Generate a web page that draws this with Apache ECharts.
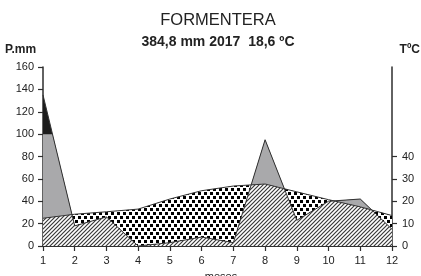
<!DOCTYPE html>
<html><head><meta charset="utf-8">
<script src="https://cdn.jsdelivr.net/npm/echarts@6/dist/echarts.min.js"></script>
<style>html,body{margin:0;padding:0;background:#fff}#c{width:421px;height:276px}</style>
</head><body><div id="c"></div>
<script>
// ---- data ----
const months = [1, 2, 3, 4, 5, 6, 7, 8, 9, 10, 11, 12];
const precipitation = [135, 18, 26, 0, 3, 8, 3, 95, 23, 40, 42, 15];      // mm
const temperature = [12.4, 14.2, 15.3, 16.5, 21.0, 24.7, 26.8, 27.7, 24.2, 20.7, 17.5, 13.6]; // ºC
const precipTicks = [0, 20, 40, 60, 80, 100, 120, 140, 160];
const tempTicks = [0, 10, 20, 30, 40];
const monthLabels = ['1','2','3','4','5','6','7','8','9','10','11','12'];
const titleText = 'FORMENTERA';
const subtitleText = '384,8 mm 2017  18,6 ºC';
const leftAxisName = 'P.mm';
const rightAxisName = 'TºC';
const xAxisName = 'meses';
const precipCap = 100;   // above this, precipitation is drawn black
const tempScale = 2;     // 1 ºC = 2 mm (Walter-Lieth convention)

// ---- helpers ----
const tempMM = temperature.map(t => t * tempScale);
const capArr = months.map(() => precipCap);
function pairs(xs, ys) { return xs.map((x, i) => [x, ys[i]]); }
// lower envelope of two piecewise-linear curves, including crossing points
function lower(a, b) {
  const out = [];
  for (let i = 0; i < months.length; i++) {
    out.push([months[i], Math.min(a[i], b[i])]);
    if (i < months.length - 1) {
      const d0 = a[i] - b[i], d1 = a[i + 1] - b[i + 1];
      if (d0 * d1 < 0) {
        const t = d0 / (d0 - d1);
        out.push([months[i] + t * (months[i + 1] - months[i]), a[i] + t * (a[i + 1] - a[i])]);
      }
    }
  }
  return out;
}

function hatchPattern() {
  const s = 4, c = document.createElement('canvas');
  c.width = s; c.height = s;
  const g = c.getContext('2d');
  g.fillStyle = '#fff'; g.fillRect(0, 0, s, s);
  g.strokeStyle = '#3a3a3a'; g.lineWidth = 1.2;
  g.beginPath();
  g.moveTo(-1, s + 1); g.lineTo(s + 1, -1);
  g.moveTo(-1, 1); g.lineTo(1, -1);
  g.moveTo(s - 1, s + 1); g.lineTo(s + 1, s - 1);
  g.stroke();
  return c;
}
function dotPattern() {
  const w = 6, h = 8, c = document.createElement('canvas');
  c.width = w; c.height = h;
  const g = c.getContext('2d');
  g.fillStyle = '#fff'; g.fillRect(0, 0, w, h);
  g.fillStyle = '#000';
  g.fillRect(0, 0, 3, 3);
  g.fillRect(3, 4, 3, 3);
  return c;
}

const chart = echarts.init(document.getElementById('c'), null, { renderer: 'canvas' });
const axisColor = '#2e2e2e';
const FF = 'Liberation Sans, Arial, sans-serif';
const labelFont = { color: '#222', fontSize: 11, fontFamily: FF };
function txt(text, x, y, size, weight, align) {
  return { type: 'text', x: x, y: y, silent: true,
    style: { text: text, fill: '#222', font: weight + ' ' + size + 'px ' + FF,
      textAlign: align, align: align, textVerticalAlign: 'middle', verticalAlign: 'middle' } };
}

chart.setOption({
  animation: false,
  backgroundColor: '#fff',
  graphic: [
    txt(titleText, 218, 20, 16.5, 'normal', 'center'),
    txt(subtitleText, 218, 42.5, 14, 'bold', 'center'),
    txt(leftAxisName, 5, 50, 12, 'bold', 'left'),
    txt(rightAxisName, 420, 50, 12, 'bold', 'right'),
    txt(xAxisName, 221, 277, 11, 'normal', 'center')
  ],
  grid: { left: 43, right: 29, top: 67, bottom: 30, containLabel: false },
  xAxis: {
    type: 'value', min: 1, max: 12, interval: 1,
    axisLine: { lineStyle: { color: axisColor, width: 2 } },
    axisTick: { show: true, length: 5, lineStyle: { color: axisColor, width: 1.2 } },
    axisLabel: { ...labelFont, margin: 9, formatter: v => monthLabels[v - 1] || '' },
    splitLine: { show: false }
  },
  yAxis: [
    {
      type: 'value', min: 0, max: 160, interval: 20, position: 'left',
      axisLine: { show: true, lineStyle: { color: axisColor, width: 1.5 } },
      axisTick: { show: true, length: 5, lineStyle: { color: axisColor, width: 1.2 } },
      axisLabel: { ...labelFont, margin: 9 },
      splitLine: { show: false }
    },
    {
      type: 'value', min: 0, max: 80, interval: 10, position: 'right',
      axisLine: { show: true, lineStyle: { color: axisColor, width: 1.5 } },
      axisTick: { show: true, length: 5, customValues: tempTicks, lineStyle: { color: axisColor, width: 1.2 } },
      axisLabel: { ...labelFont, margin: 10, customValues: tempTicks },
      splitLine: { show: false }
    }
  ],
  series: [
    { name: 'P black', type: 'line', z: 1, data: pairs(months, precipitation), symbol: 'none',
      lineStyle: { width: 0 }, areaStyle: { color: '#1c1c1c', opacity: 1 } },
    { name: 'P gray', type: 'line', z: 2, data: lower(precipitation, capArr), symbol: 'none',
      lineStyle: { width: 0 }, areaStyle: { color: '#a9a9ab', opacity: 1 } },
    { name: 'arid', type: 'line', z: 3, data: pairs(months, tempMM), symbol: 'none',
      lineStyle: { width: 0 }, areaStyle: { color: { image: dotPattern(), repeat: 'repeat' }, opacity: 1 } },
    { name: 'humid', type: 'line', z: 4, data: lower(precipitation, tempMM), symbol: 'none',
      lineStyle: { width: 0 }, areaStyle: { color: { image: hatchPattern(), repeat: 'repeat' }, opacity: 1 } },
    { name: 'P line', type: 'line', z: 5, data: pairs(months, precipitation), symbol: 'none',
      lineStyle: { color: '#333', width: 1 } },
    { name: 'T line', type: 'line', z: 5, data: pairs(months, tempMM), symbol: 'none',
      lineStyle: { color: '#333', width: 1 } }
  ]
});
</script>
</body></html>
